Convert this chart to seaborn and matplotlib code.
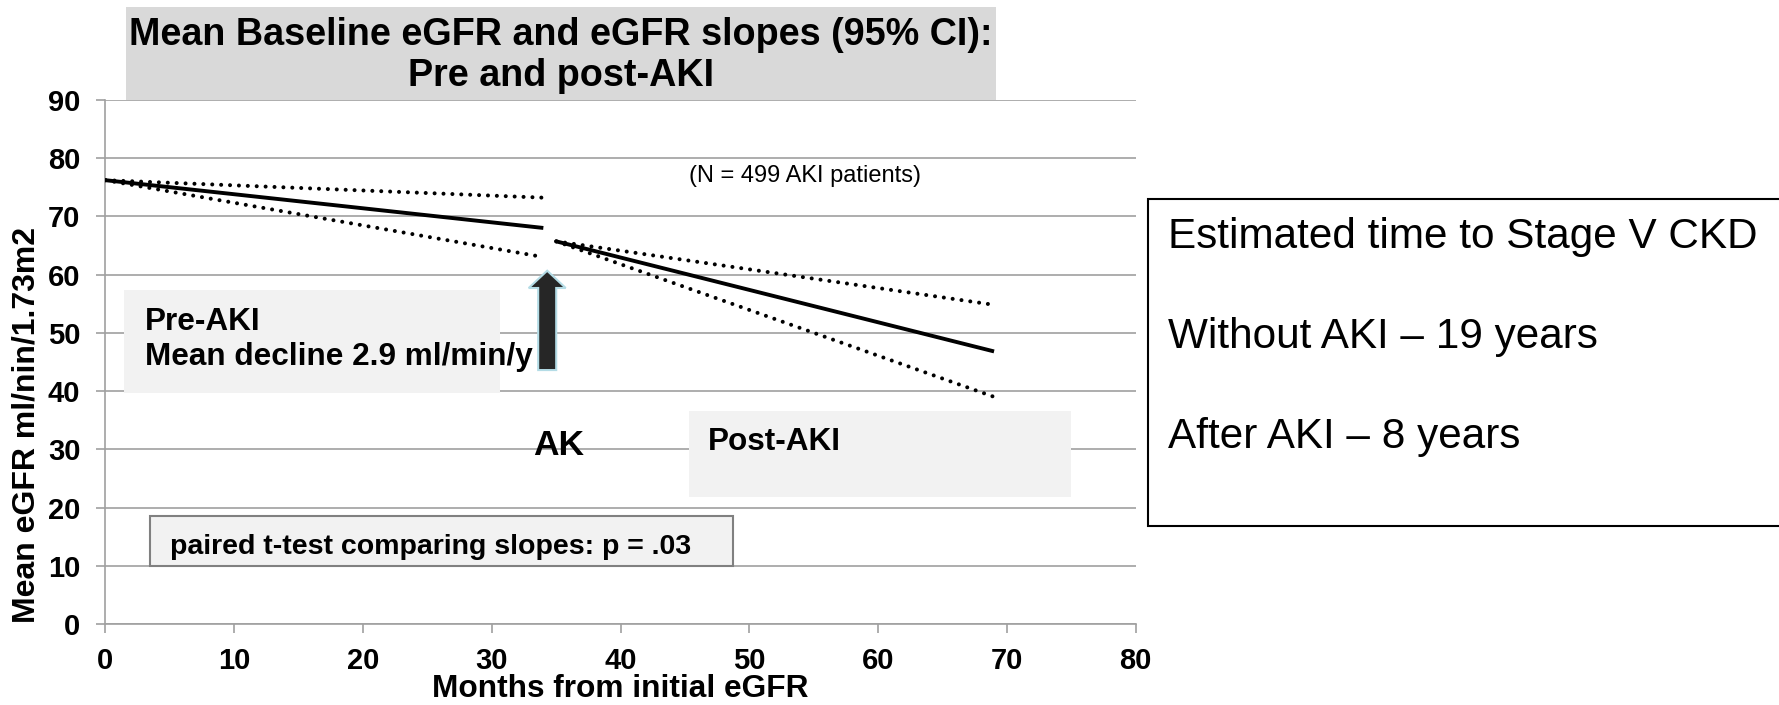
import matplotlib
matplotlib.use("Agg")
import matplotlib.pyplot as plt
import matplotlib.patches as mpatches
import seaborn as sns
import pandas as pd

# ---------------- data ----------------
pre_months = [0, 34]
pre_mean = [76.2, 68.0]
pre_upper = [76.2, 73.2]
pre_lower = [76.2, 63.0]

post_months = [35, 69]
post_mean = [65.7, 46.8]
post_upper = [65.7, 54.8]
post_lower = [65.7, 39.0]

x_ticks = [0, 10, 20, 30, 40, 50, 60, 70, 80]
y_ticks = [0, 10, 20, 30, 40, 50, 60, 70, 80, 90]

title_text = "Mean Baseline eGFR and eGFR slopes (95% CI):\nPre and post-AKI"
x_label = "Months from initial eGFR"
y_label = "Mean eGFR ml/nin/1.73m2"
n_text = "(N = 499 AKI patients)"
pre_text = "Pre-AKI\nMean decline 2.9 ml/min/y"
post_text = "Post-AKI"
aki_text = "AK"
ttest_text = "paired t-test comparing slopes: p = .03"
side_lines = ["Estimated time to Stage V CKD",
              "Without AKI \u2013 19 years",
              "After AKI \u2013 8 years"]

# ---------------- style ----------------
sns.set_style("white")
plt.rcParams["font.family"] = ["Liberation Sans", "DejaVu Sans"]
plt.rcParams["text.color"] = "black"
plt.rcParams["axes.labelcolor"] = "black"
plt.rcParams["xtick.color"] = "black"
plt.rcParams["ytick.color"] = "black"

GRID = "#a0a0a0"
BOX = "#f2f2f2"

fig = plt.figure(figsize=(17.79, 7.05), dpi=100)
ax = fig.add_axes([0.0593, 0.1149, 0.5791, 0.7435])

series = [
    (pre_months, pre_mean, "solid"),
    (pre_months, pre_upper, "dot"),
    (pre_months, pre_lower, "dot"),
    (post_months, post_mean, "solid"),
    (post_months, post_upper, "dot"),
    (post_months, post_lower, "dot"),
]
for xs, ys, kind in series:
    df = pd.DataFrame({"month": xs, "egfr": ys})
    if kind == "solid":
        sns.lineplot(data=df, x="month", y="egfr", ax=ax, color="black",
                     lw=2.8, solid_capstyle="butt", zorder=5)
    else:
        sns.lineplot(data=df, x="month", y="egfr", ax=ax, color="black",
                     lw=2.9, linestyle=(0, (0.01, 2.2)),
                     dash_capstyle="round", zorder=5)

ax.set_xlim(0, 80)
ax.set_ylim(0, 90)
ax.set_xticks(x_ticks)
ax.set_yticks(y_ticks)
ax.set_xticklabels([str(v) for v in x_ticks], fontsize=21, fontweight="bold")
ax.set_yticklabels([str(v) for v in y_ticks], fontsize=21, fontweight="bold")
ax.tick_params(axis="x", direction="out", length=6.5, width=1.2, color=GRID,
               labelcolor="black", pad=10, bottom=True)
ax.tick_params(axis="y", direction="out", length=6.5, width=1.2, color=GRID,
               labelcolor="black", pad=11.5, left=True)
ax.yaxis.grid(True, color=GRID, lw=1.2)
ax.xaxis.grid(False)
for s in ["top", "right"]:
    ax.spines[s].set_visible(False)
for s in ["left", "bottom"]:
    ax.spines[s].set_color(GRID)
    ax.spines[s].set_linewidth(1.2)
ax.set_axisbelow(True)

ax.set_xlabel(x_label, fontsize=22.8, fontweight="bold", color="black")
ax.xaxis.label.set_va("center")
ax.xaxis.set_label_coords(0.5, -0.124)
ax.set_ylabel(y_label, fontsize=23, fontweight="bold", color="black")
ax.yaxis.label.set_va("center")
ax.yaxis.set_label_coords(-0.0762, 0.38)

# ---------------- annotation boxes inside the plot ----------------
ax.add_patch(mpatches.Rectangle((1.44, 39.7), 29.16, 17.6, fc=BOX, ec="none", zorder=2))
ax.text(3.07, 48.8, pre_text, fontsize=22.7, fontweight="bold", ha="left",
        va="center", linespacing=1.2, zorder=6)

ax.add_patch(mpatches.Rectangle((45.3, 21.8), 29.7, 14.8, fc=BOX, ec="none", zorder=2))
ax.text(46.8, 31.2, post_text, fontsize=22.7, fontweight="bold", ha="left",
        va="center", zorder=6)

ax.add_patch(mpatches.Rectangle((3.45, 10.0), 45.25, 8.5, fc=BOX, ec="#808080",
                                lw=1.5, zorder=2))
ax.text(5.0, 13.3, ttest_text, fontsize=20.5, fontweight="bold", ha="left",
        va="center", zorder=6)

ax.text(35.2, 30.7, aki_text, fontsize=25.5, fontweight="bold", ha="center",
        va="center", zorder=6)

ax.text(45.3, 76.9, n_text, fontsize=17, ha="left", va="center", zorder=6)

arrow = mpatches.FancyArrow(34.3, 43.6, 0, 17.06, width=1.4, head_width=2.87,
                            head_length=2.97, length_includes_head=True,
                            fc="#262626", ec="#b4dce6", lw=1.5, zorder=6)
ax.add_patch(arrow)

# ---------------- title box ----------------
fig.patches.append(mpatches.Rectangle((0.0708, 0.8582), 0.489, 0.1319,
                                      transform=fig.transFigure, fc="#d9d9d9",
                                      ec="none", zorder=1))
fig.text(0.3153, 1 - 55.5 / 705, title_text, fontsize=27.2, fontweight="bold",
         ha="center", va="center", linespacing=1.2, zorder=3)

# ---------------- side box ----------------
fig.patches.append(mpatches.Rectangle((0.6453, 0.2532), 0.40, 0.4645,
                                      transform=fig.transFigure, fc="white",
                                      ec="black", lw=1.5, zorder=1))
for yy, line in zip([1 - 237 / 705, 1 - 337 / 705, 1 - 437 / 705], side_lines):
    fig.text(0.6566, yy, line, fontsize=30.4, ha="left", va="center", zorder=3)

fig.savefig("out.png", dpi=100)
